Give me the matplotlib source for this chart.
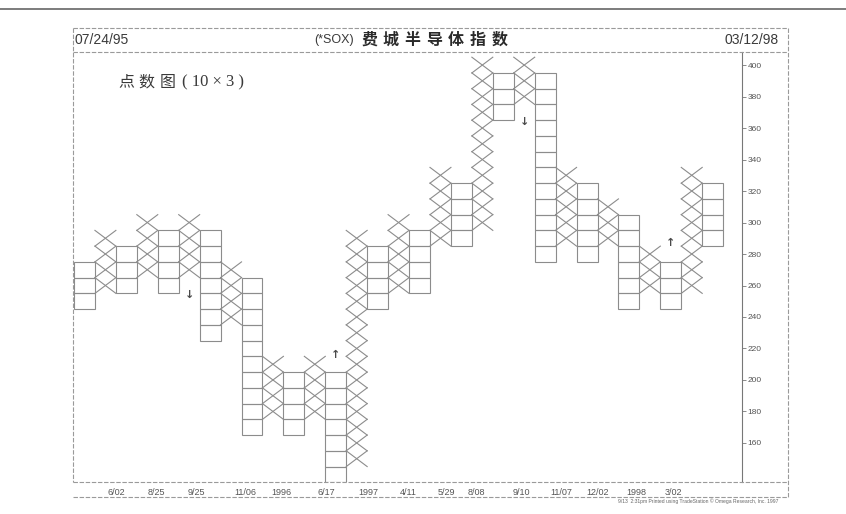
import matplotlib
matplotlib.use("Agg")
import matplotlib.pyplot as plt
from matplotlib.patches import Rectangle
from matplotlib.lines import Line2D

plt.rcParams['font.family'] = ['Liberation Sans', 'Noto Sans CJK SC', 'DejaVu Sans']

# -------------------- 1. Data (point & figure, box = 10, reversal = 3) --------------------
BOX = 10
# one entry per column, left to right
col_kind = ['O', 'X', 'O', 'X', 'O', 'X', 'O', 'X', 'O', 'X', 'O', 'X', 'O', 'X', 'O', 'X',
            'O', 'X', 'O', 'X', 'O', 'X', 'O', 'X', 'O', 'X', 'O', 'X', 'O', 'X', 'O']
col_low = [245, 255, 255, 265, 255, 265, 225, 235, 165, 175, 165, 175, 135, 145, 245, 255,
           255, 285, 285, 295, 365, 375, 275, 285, 275, 285, 245, 255, 245, 255, 285]
col_high = [275, 295, 285, 305, 295, 305, 295, 275, 265, 215, 205, 215, 205, 295, 285, 305,
            295, 335, 325, 405, 395, 405, 395, 335, 325, 315, 305, 285, 275, 335, 325]

# buy / sell signal arrows
signal_col = [5, 12, 21, 28]
signal_price = [254, 216, 364, 287]
signal_mark = ['↓', '↑', '↓', '↑']

price_ticks = [160, 180, 200, 220, 240, 260, 280, 300, 320, 340, 360, 380, 400]
date_labels = ['6/02', '8/25', '9/25', '11/06', '1996', '6/17', '1997', '4/11', '5/29',
               '8/08', '9/10', '11/07', '12/02', '1998', '3/02']
date_pos = [2.04, 3.95, 5.86, 8.17, 9.92, 12.07, 14.04, 15.95, 17.8,
            19.23, 21.38, 23.29, 25.02, 26.87, 28.62]

title_code = '(*SOX)'
title_name = '费城半导体指数'
chart_note = '点数图'
chart_size = '( 10 × 3 )'

# -------------------- 2. Figure --------------------
W, H = 846, 514
fig = plt.figure(figsize=(W / 100, H / 100), dpi=100)
fig.patch.set_facecolor('white')

def fx(x):
    return x / W

def fy(y):
    return 1 - y / H

LINE = '#8c8c8c'
TEXT = '#3a3a3a'

ax = fig.add_axes([fx(74), fy(482), fx(742) - fx(74), fy(52) - fy(482)])
ax.set_xlim(0, 31.9)
ax.set_ylim(135.2, 408.3)

for i, (kind, lo, hi) in enumerate(zip(col_kind, col_low, col_high)):
    b = lo
    while b < hi:
        if kind == 'X':
            ax.plot([i, i + 1], [b, b + BOX], color=LINE, lw=0.8)
            ax.plot([i, i + 1], [b + BOX, b], color=LINE, lw=0.8)
        else:
            ax.add_patch(Rectangle((i, b), 1, BOX, fill=False, ec=LINE, lw=0.8))
        b += BOX

for c, p, m in zip(signal_col, signal_price, signal_mark):
    ax.text(c + 0.5, p, m, ha='center', va='center', fontsize=8, fontweight='bold',
            color='#4a4a4a', family=['DejaVu Sans'])

# axes look
for s in ['top', 'left', 'bottom']:
    ax.spines[s].set_visible(False)
ax.spines['right'].set_color('#777777')
ax.spines['right'].set_linewidth(0.8)
ax.yaxis.tick_right()
ax.set_yticks(price_ticks)
ax.set_yticklabels([str(t) for t in price_ticks])
ax.tick_params(axis='y', length=3, width=0.6, color='#777777', pad=1,
               labelsize=6, labelcolor='#555555')
ax.set_xticks(date_pos)
ax.set_xticklabels(date_labels)
ax.tick_params(axis='x', length=0, pad=4, labelsize=6.5, labelcolor='#555555')

# -------------------- 3. Frame & header --------------------
def fline(x0, y0, x1, y1, **kw):
    fig.add_artist(Line2D([fx(x0), fx(x1)], [fy(y0), fy(y1)], transform=fig.transFigure, **kw))

dash = dict(color='#9a9a9a', lw=0.8, ls=(0, (4, 1.5)))
fline(0, 9, W, 9, color='#666666', lw=1.2)
fline(73, 28, 788, 28, **dash)
fline(73, 52, 788, 52, **dash)
fline(73, 28, 73, 482, **dash)
fline(788, 28, 788, 497, **dash)
fline(73, 482, 788, 482, **dash)
fline(73, 497, 788, 497, **dash)

fig.text(fx(74), fy(40), '07/24/95', ha='left', va='center', fontsize=10, color=TEXT)
fig.text(fx(779), fy(40), '03/12/98', ha='right', va='center', fontsize=10, color=TEXT)

# title: small latin code, then widely spaced CJK characters
fig.text(fx(314), fy(40), title_code, ha='left', va='center', fontsize=9, color=TEXT)
for k, ch in enumerate(title_name):
    fig.text(fx(361 + k * 21.8), fy(40), ch, ha='left', va='center', fontsize=11.5,
             color='#2a2a2a', family=['Noto Sans CJK SC'], fontweight='bold')

for k, ch in enumerate(chart_note):
    fig.text(fx(118 + k * 20.7), fy(82), ch, ha='left', va='center', fontsize=11.5,
             color=TEXT, family=['Noto Sans CJK SC'])
fig.text(fx(182), fy(82), chart_size, ha='left', va='center', fontsize=12,
         color=TEXT, family=['Liberation Serif', 'DejaVu Serif'])

fig.text(fx(778), fy(501), '9/13  2:31pm Printed using TradeStation © Omega Research, Inc. 1997',
         ha='right', va='center', fontsize=3.6, color='#666666')

plt.savefig('out.png', dpi=100)
